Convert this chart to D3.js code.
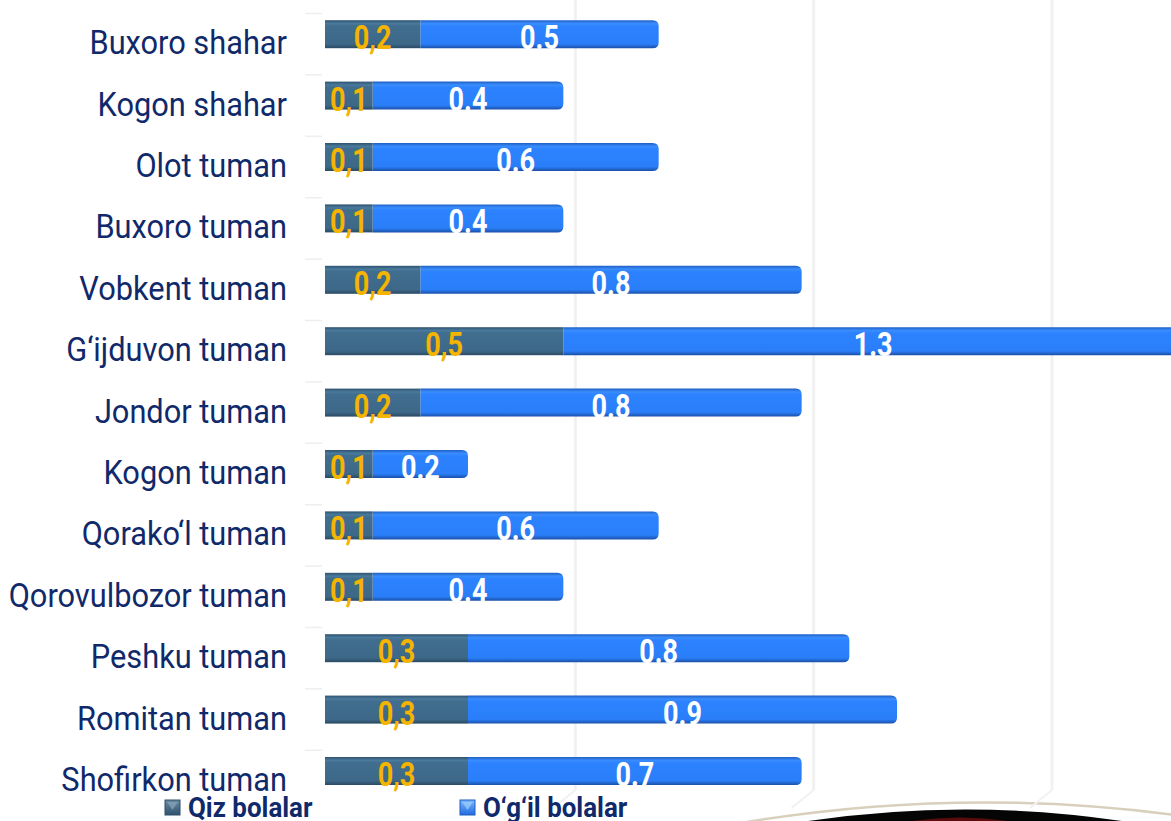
<!DOCTYPE html>
<html><head><meta charset="utf-8">
<script src="https://cdn.jsdelivr.net/npm/d3@7"></script>
<style>html,body{margin:0;padding:0;background:#fff;overflow:hidden}</style>
</head><body>
<svg id="c" width="1171" height="821"></svg>
<script>
const categories = ["Buxoro shahar","Kogon shahar","Olot tuman","Buxoro tuman","Vobkent tuman","G‘ijduvon tuman","Jondor tuman","Kogon tuman","Qorako‘l tuman","Qorovulbozor tuman","Peshku tuman","Romitan tuman","Shofirkon tuman"];
const girls = [0.2,0.1,0.1,0.1,0.2,0.5,0.2,0.1,0.1,0.1,0.3,0.3,0.3];
const boys  = [0.5,0.4,0.6,0.4,0.8,1.3,0.8,0.2,0.6,0.4,0.8,0.9,0.7];
const girlsLabels = ["0,2","0,1","0,1","0,1","0,2","0,5","0,2","0,1","0,1","0,1","0,3","0,3","0,3"];
const boysLabels  = ["0.5","0.4","0.6","0.4","0.8","1.3","0.8","0.2","0.6","0.4","0.8","0.9","0.7"];
const seriesNames = ["Qiz bolalar","O‘g‘il bolalar"];
const gridTicks = [0.5,1.0,1.5];

const svg = d3.select("#c");
const x = d3.scaleLinear().domain([0,1.8]).range([325,1183]);
const y = d3.scaleBand().domain(categories).range([3.5,3.5+61.4*13]).padding(0);
const barH = 28;
const navy="#10296a";

const defs = svg.append("defs");
const gG = defs.append("linearGradient").attr("id","gg").attr("x1",0).attr("x2",0).attr("y1",0).attr("y2",1);
[[0,"#2f5370"],[0.12,"#4a7a9c"],[0.2,"#416e8f"],[0.85,"#3d6888"],[1,"#2a4a63"]].forEach(s=>gG.append("stop").attr("offset",s[0]).attr("stop-color",s[1]));
const gB = defs.append("linearGradient").attr("id","gb").attr("x1",0).attr("x2",0).attr("y1",0).attr("y2",1);
[[0,"#1f60c4"],[0.12,"#3a8dff"],[0.22,"#2c82ff"],[0.85,"#2a7ef8"],[1,"#1a4fa8"]].forEach(s=>gB.append("stop").attr("offset",s[0]).attr("stop-color",s[1]));
const blur = defs.append("filter").attr("id","blur").attr("x","-2").attr("width","5");
blur.append("feGaussianBlur").attr("stdDeviation",2.5);
const mGirl = defs.append("linearGradient").attr("id","mg").attr("x1",0).attr("x2",0).attr("y1",0).attr("y2",1);
[[0,"#6a8aa0"],[1,"#2e5270"]].forEach(s=>mGirl.append("stop").attr("offset",s[0]).attr("stop-color",s[1]));
const mBoy = defs.append("linearGradient").attr("id","mb").attr("x1",0).attr("x2",0).attr("y1",0).attr("y2",1);
[[0,"#7ab8ff"],[1,"#1f6ae0"]].forEach(s=>mBoy.append("stop").attr("offset",s[0]).attr("stop-color",s[1]));

// decorative arc bottom-right
const deco = svg.append("g");
deco.append("path").attr("d","M735,824 Q955,786 1175,815").attr("fill","none").attr("stroke","#d8d0bc").attr("stroke-width",2.5);
deco.append("path").attr("d","M795,823 Q965,796 1135,823 Z").attr("fill","#050505");
deco.append("path").attr("d","M900,823 Q960,812 1020,823 Z").attr("fill","#5a0c0c");

// grid lines
const grid = svg.append("g");
gridTicks.forEach(t=>{
  const gx = x(t)+12;
  grid.append("line").attr("x1",gx).attr("x2",gx).attr("y1",0).attr("y2",790).attr("stroke","#f1f1f1").attr("stroke-width",3);
  grid.append("line").attr("x1",gx).attr("x2",gx-22).attr("y1",790).attr("y2",808).attr("stroke","#f1f1f1").attr("stroke-width",2);
});

// left tick marks
const ticks = svg.append("g");
categories.forEach((c,i)=>{
  const ty = y(c)+10;
  ticks.append("line").attr("x1",305).attr("x2",322).attr("y1",ty).attr("y2",ty).attr("stroke","#eeeeee").attr("stroke-width",1.5);
});
// axis shadow
svg.append("line").attr("x1",x(0)).attr("x2",x(0)).attr("y1",0).attr("y2",792)
  .attr("stroke","#8a8a8a").attr("stroke-width",4).attr("stroke-dasharray","22 6").attr("filter","url(#blur)").attr("opacity",0.8);

// bars
const rows = svg.append("g").selectAll("g").data(categories).join("g");
function barPath(x0,x1,yc,h,r){
  const t=yc-h/2,b=yc+h/2;
  return `M${x0},${t}H${x1-r}Q${x1},${t} ${x1},${t+r}V${b-r}Q${x1},${b} ${x1-r},${b}H${x0}Z`;
}
function sx(cx,s){return `translate(${cx},0) scale(${s},1) translate(${-cx},0)`;}
rows.each(function(c,i){
  const g = d3.select(this);
  const yc = y(c)+y.bandwidth()/2;
  const x0=x(0), x1=x(girls[i]), x2=x(girls[i]+boys[i]);
  g.append("path").attr("d",barPath(x1,x2,yc,barH,6)).attr("fill","url(#gb)");
  g.append("rect").attr("x",x0).attr("y",yc-barH/2).attr("width",x1-x0).attr("height",barH).attr("fill","url(#gg)");
  g.append("text").attr("x",(x0+x1)/2).attr("y",yc+15).attr("text-anchor","middle")
    .attr("font-family","Roboto, sans-serif").attr("font-weight","bold").attr("font-size",33)
    .attr("fill","#f5b400").attr("transform",sx((x0+x1)/2,0.82)).text(girlsLabels[i]);
  g.append("text").attr("x",(x1+x2)/2).attr("y",yc+15).attr("text-anchor","middle")
    .attr("font-family","Roboto, sans-serif").attr("font-weight","bold").attr("font-size",33)
    .attr("fill","#ffffff").attr("transform",sx((x1+x2)/2,0.82)).text(boysLabels[i]);
  g.append("text").attr("x",287).attr("y",yc+20).attr("text-anchor","end")
    .attr("font-family","Roboto, sans-serif").attr("font-size",34).attr("fill",navy)
    .attr("transform",sx(287,0.905)).text(c);
});

// legend
const leg = svg.append("g");
const legX = [165,460];
seriesNames.forEach((n,i)=>{
  const lx=legX[i];
  leg.append("rect").attr("x",lx).attr("y",800).attr("width",15).attr("height",15).attr("fill",i?"url(#mb)":"url(#mg)").attr("stroke",i?"#1f5fc0":"#2e4f68");
  leg.append("path").attr("d",`M${lx+2},${802}L${lx+13},${802}L${lx+7.5},${810}Z`).attr("fill",i?"#9fd0ff":"#8aa6ba").attr("opacity",0.7);
  leg.append("text").attr("x",lx+23).attr("y",817).attr("font-family","Roboto, sans-serif").attr("font-weight","bold")
    .attr("font-size",27).attr("fill",navy).attr("transform",sx(lx+23,0.96)).text(n);
});
</script>
</body></html>
